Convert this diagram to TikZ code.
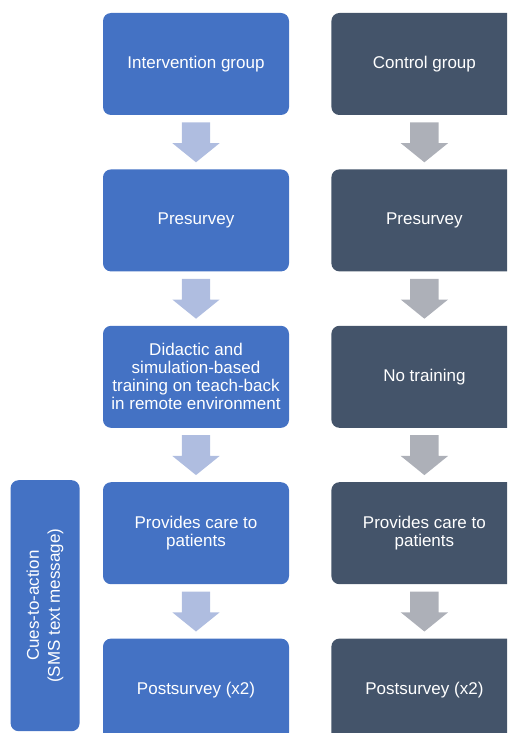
\documentclass[tikz,border=0pt]{standalone}
\usepackage{fontspec}
\setmainfont{Liberation Sans}
\usetikzlibrary{positioning, shapes.arrows, calc}
\definecolor{ivblue}{HTML}{4472C4}
\definecolor{ctslate}{HTML}{44546A}
\definecolor{ivarrow}{HTML}{AFBDE0}
\definecolor{ctarrow}{HTML}{ADB0B8}

\begin{document}
\begin{tikzpicture}[
    x=1pt, y=1pt,
    node distance=54pt and 42pt,
    every node/.style={font=\fontsize{17}{18}\selectfont, text=white},
    % Group boxes
    ivbox/.style={
      rectangle, fill=ivblue, rounded corners=8pt,
      minimum width=186pt, minimum height=102pt,
      align=center, inner sep=2pt
    },
    ctbox/.style={ivbox, fill=ctslate},
    % Block arrows between boxes
    downarr/.style={
      single arrow, shape border rotate=270, inner sep=14pt,
      minimum height=39pt, single arrow head extend=9.5pt,
      single arrow tip angle=102, anchor=tail
    }
  ]

  \clip (0,0) rectangle (507,-733);

  % ============ Intervention column ============
  \node[ivbox] (ivgrp) at (196,-64) {Intervention group};
  \node[ivbox, below=of ivgrp] (ivpre) {Presurvey};
  \node[ivbox, below=of ivpre] (ivtrain)
    {Didactic and\\simulation-based\\training on teach-back\\in remote environment};
  \node[ivbox, below=of ivtrain] (ivcare) {Provides care to\\patients};
  \node[ivbox, below=of ivcare] (ivpost) {Postsurvey (x2)};

  % ============ Control column ============
  \node[ctbox, right=of ivgrp] (ctgrp) {Control group};
  \node[ctbox, below=of ctgrp] (ctpre) {Presurvey};
  \node[ctbox, below=of ctpre] (ctnotrain) {No training};
  \node[ctbox, below=of ctnotrain] (ctcare) {Provides care to\\patients};
  \node[ctbox, below=of ctcare] (ctpost) {Postsurvey (x2)};

  % ============ Arrows ============
  \foreach \from in {ivgrp, ivpre, ivtrain, ivcare}
    \node[downarr, fill=ivarrow] (arr-\from) at ([yshift=-7pt]\from.south) {};
  \foreach \from in {ctgrp, ctpre, ctnotrain, ctcare}
    \node[downarr, fill=ctarrow] (arr-\from) at ([yshift=-7pt]\from.south) {};

  % ============ Cues-to-action ============
  \node[ivbox, rotate=90, anchor=south east,
        minimum width=251pt, minimum height=69pt]
    (cues) at ([xshift=-23pt, yshift=2pt]ivcare.north west)
    {Cues-to-action\\[3pt](SMS text message)};

\end{tikzpicture}
\end{document}
